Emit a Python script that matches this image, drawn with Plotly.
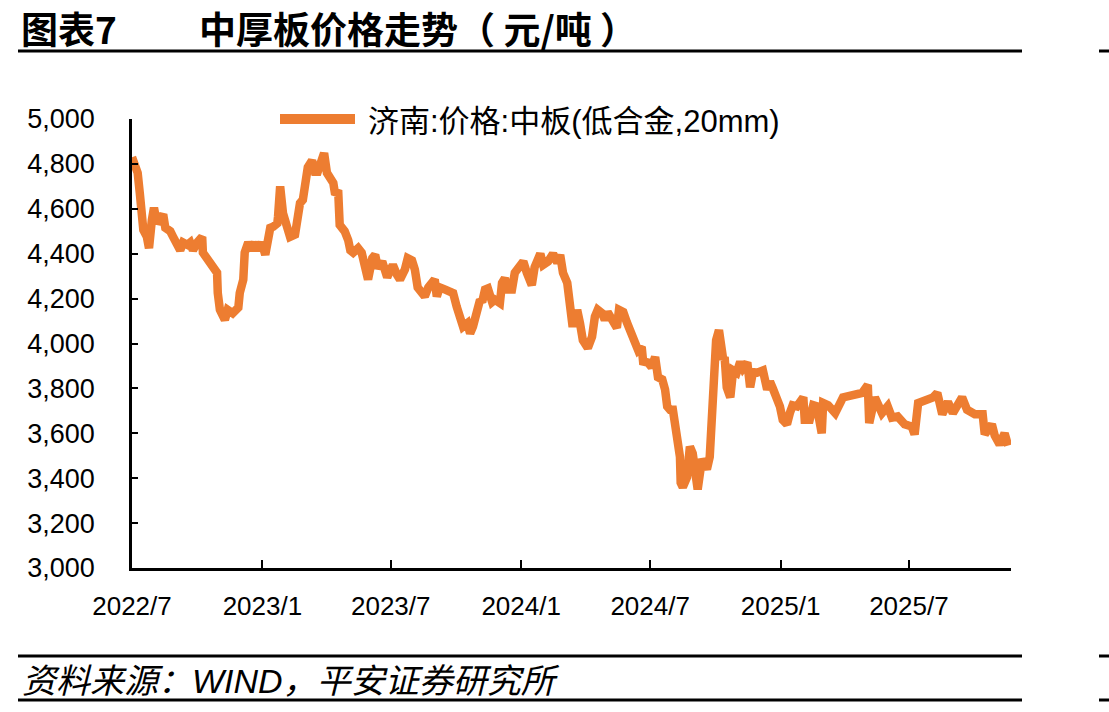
import plotly.graph_objects as go

# ---------------- data ----------------
dates = [
    "2022-07-01","2022-07-05","2022-07-09","2022-07-12","2022-07-14","2022-07-17","2022-07-22","2022-07-25",
    "2022-07-29","2022-08-01","2022-08-05","2022-08-09","2022-08-14","2022-08-17","2022-08-24","2022-08-28",
    "2022-09-02","2022-09-07","2022-09-11","2022-09-17","2022-09-21","2022-09-25","2022-10-01","2022-10-08",
    "2022-10-09","2022-10-16","2022-10-23","2022-10-29","2022-10-30","2022-11-02","2022-11-09","2022-11-13",
    "2022-11-20","2022-11-28","2022-11-30","2022-12-05","2022-12-07","2022-12-12","2022-12-17","2022-12-22",
    "2022-12-26","2022-12-31","2023-01-05","2023-01-09","2023-01-12","2023-01-16","2023-01-22","2023-01-23",
    "2023-01-26","2023-01-30","2023-02-05","2023-02-09","2023-02-16","2023-02-19","2023-02-23","2023-02-27",
    "2023-03-03","2023-03-06","2023-03-12","2023-03-16","2023-03-20","2023-03-26","2023-03-29","2023-04-02",
    "2023-04-06","2023-04-11","2023-04-13","2023-04-18","2023-04-20","2023-04-27","2023-05-02","2023-05-05",
    "2023-05-09","2023-05-16","2023-05-21","2023-05-26","2023-05-30","2023-06-05","2023-06-09","2023-06-13",
    "2023-06-19","2023-06-26","2023-06-30","2023-07-04","2023-07-10","2023-07-14","2023-07-21","2023-07-25",
    "2023-07-31","2023-08-04","2023-08-08","2023-08-14","2023-08-18","2023-08-23","2023-08-28","2023-09-01",
    "2023-09-04","2023-09-08","2023-09-16","2023-09-23","2023-09-27","2023-10-02","2023-10-07","2023-10-11",
    "2023-10-17","2023-10-21","2023-10-25","2023-10-31","2023-11-04","2023-11-07","2023-11-11","2023-11-15",
    "2023-11-21","2023-11-25","2023-12-02","2023-12-05","2023-12-09","2023-12-13","2023-12-19","2023-12-23",
    "2023-12-30","2024-01-04","2024-01-09","2024-01-16","2024-01-20","2024-01-28","2024-02-01","2024-02-08",
    "2024-02-15","2024-02-21","2024-02-25","2024-02-29","2024-03-06","2024-03-10","2024-03-13","2024-03-17",
    "2024-03-20","2024-03-24","2024-03-28","2024-04-04","2024-04-10","2024-04-14","2024-04-18","2024-04-24",
    "2024-04-28","2024-05-02","2024-05-09","2024-05-15","2024-05-18","2024-05-24","2024-05-29","2024-06-02",
    "2024-06-07","2024-06-14","2024-06-19","2024-06-21","2024-06-28","2024-07-03","2024-07-08","2024-07-12",
    "2024-07-18","2024-07-22","2024-07-25","2024-07-29","2024-08-02","2024-08-05","2024-08-09","2024-08-12",
    "2024-08-13","2024-08-16","2024-08-22","2024-08-26","2024-08-30","2024-09-05","2024-09-06","2024-09-12",
    "2024-09-16","2024-09-19","2024-09-23","2024-09-26","2024-09-28","2024-10-02","2024-10-06","2024-10-09",
    "2024-10-12","2024-10-14","2024-10-17","2024-10-22","2024-10-26","2024-10-31","2024-11-05","2024-11-09",
    "2024-11-15","2024-11-19","2024-11-23","2024-11-29","2024-12-07","2024-12-13","2024-12-17","2024-12-21",
    "2024-12-27","2024-12-31","2025-01-04","2025-01-10","2025-01-14","2025-01-18","2025-01-24","2025-02-02",
    "2025-02-04","2025-02-11","2025-02-16","2025-02-21","2025-02-28","2025-03-02","2025-03-09","2025-03-19",
    "2025-03-30","2025-04-13","2025-04-26","2025-05-04","2025-05-06","2025-05-14","2025-05-24","2025-06-01",
    "2025-06-07","2025-06-15","2025-06-25","2025-07-05","2025-07-09","2025-07-14","2025-07-26","2025-08-04",
    "2025-08-10","2025-08-17","2025-08-25","2025-09-01","2025-09-14","2025-09-21","2025-10-02","2025-10-13",
    "2025-10-16","2025-10-26","2025-10-30","2025-11-06","2025-11-13","2025-11-18",
]
prices = [
    4830,4800,4760,4670,4580,4505,4475,4425,
    4550,4605,4535,4550,4575,4515,4500,4475,
    4450,4415,4450,4440,4450,4415,4450,4475,
    4405,4370,4335,4315,4225,4150,4105,4150,
    4135,4160,4225,4285,4405,4450,4415,4450,
    4415,4450,4395,4460,4515,4520,4535,4565,
    4700,4580,4490,4475,4485,4565,4625,4640,
    4730,4785,4815,4765,4765,4815,4848,4760,
    4735,4715,4675,4670,4528,4500,4460,4415,
    4405,4425,4405,4320,4285,4380,4395,4335,
    4365,4295,4340,4350,4305,4285,4330,4380,
    4370,4330,4250,4230,4210,4250,4275,4285,
    4210,4250,4240,4230,4225,4165,4090,4075,
    4090,4045,4075,4165,4195,4185,4240,4245,
    4185,4195,4180,4270,4290,4240,4240,4315,
    4340,4365,4315,4260,4340,4400,4350,4365,
    4400,4360,4395,4315,4270,4180,4090,4090,
    4150,4090,4015,3980,4030,4120,4150,4135,
    4105,4140,4105,4070,4150,4140,4095,4060,
    4005,3970,3985,3920,3915,3895,3940,3850,
    3840,3795,3720,3705,3705,3645,3585,3495,
    3380,3360,3405,3540,3510,3405,3350,3485,
    3450,3440,3495,3705,3925,4015,4060,3960,
    3928,3940,3805,3760,3880,3870,3918,3890,
    3915,3805,3873,3870,3880,3795,3830,3800,
    3760,3720,3660,3640,3690,3725,3720,3760,
    3660,3660,3725,3720,3600,3735,3725,3690,
    3760,3770,3780,3815,3645,3760,3690,3720,
    3670,3675,3640,3630,3595,3735,3750,3760,
    3780,3685,3740,3690,3760,3705,3685,3685,
    3595,3640,3590,3550,3600,3545,
]

tick_dates = ["2022-07-01","2023-01-01","2023-07-01","2024-01-01","2024-07-01","2025-01-01","2025-07-01"]
tick_labels = ["2022/7","2023/1","2023/7","2024/1","2024/7","2025/1","2025/7"]
y_ticks = [3000,3200,3400,3600,3800,4000,4200,4400,4600,4800,5000]

series_name = "济南:价格:中板(低合金,20mm)"
title_left = "图表7"
title_right = "中厚板价格走势（ 元/吨 ）"
source_text = "资料来源：WIND，平安证券研究所"

# ---------------- layout helpers ----------------
W, H = 1109, 712
L, R, T, B = 132, 1011, 119, 568   # plot area pixel box
ORANGE = "#ED7D31"
FONT = "Liberation Sans, Arial, Noto Sans CJK SC, sans-serif"

def px(x):
    return (x - L) / (R - L)

def py(y):
    return (B - y) / (B - T)

fig = go.Figure()
fig.add_trace(go.Scatter(
    x=dates, y=prices, mode="lines", name=series_name,
    line=dict(color=ORANGE, width=8.5), showlegend=False,
))

fig.update_layout(
    width=W, height=H,
    margin=dict(l=L, r=W - R, t=T, b=H - B, pad=0),
    paper_bgcolor="white", plot_bgcolor="white",
    font=dict(family=FONT, size=26, color="black"),
    xaxis=dict(
        type="date", range=["2022-07-01", "2025-11-22"],
        tickvals=tick_dates, ticktext=tick_labels,
        showline=True, linecolor="black", linewidth=2.5,
        ticks="inside", ticklen=8, tickwidth=2, tickcolor="black",
        showgrid=False, zeroline=False, ticklabelstandoff=13,
        tickfont=dict(size=26, family=FONT),
    ),
    yaxis=dict(
        range=[3000, 5000], tickvals=y_ticks, tickformat=",d",
        showline=True, linecolor="black", linewidth=2.5,
        ticks="inside", ticklen=6, tickwidth=2, tickcolor="black",
        showgrid=False, zeroline=False, ticklabelstandoff=29,
        tickfont=dict(size=27, family=FONT),
    ),
)

shapes = []
def hline(x0, x1, y, w, color="black"):
    shapes.append(dict(type="line", xref="paper", yref="paper",
                       x0=px(x0), x1=px(x1), y0=py(y), y1=py(y),
                       line=dict(color=color, width=w)))

hline(18, 1022, 51, 3)
hline(1099, 1109, 51, 3)
hline(18, 1022, 656, 3)
hline(1099, 1109, 656, 3)
hline(18, 1022, 700, 3)
hline(1099, 1109, 700, 3)
# legend sample line
hline(280, 355, 119, 10, ORANGE)
fig.update_layout(shapes=shapes)

TFONT = dict(family="Noto Sans CJK SC, sans-serif", size=37, color="black")
fig.add_annotation(x=px(20), y=py(28), xref="paper", yref="paper",
                   text="<b>" + title_left + "</b>", showarrow=False, borderpad=0,
                   xanchor="left", yanchor="middle", font=TFONT)
fig.add_annotation(x=px(198), y=py(28), xref="paper", yref="paper",
                   text="<b>" + title_right + "</b>", showarrow=False, borderpad=0,
                   xanchor="left", yanchor="middle", font=TFONT)
fig.add_annotation(x=px(366), y=py(121), xref="paper", yref="paper",
                   text=series_name, showarrow=False,
                   xanchor="left", yanchor="middle",
                   font=dict(family=FONT, size=31, color="black"))
fig.add_annotation(x=px(20), y=py(681), xref="paper", yref="paper",
                   text="<i>" + source_text + "</i>", showarrow=False,
                   xanchor="left", yanchor="middle",
                   font=dict(family=FONT, size=34, color="black", style="italic"))

fig.write_html("out.html")
